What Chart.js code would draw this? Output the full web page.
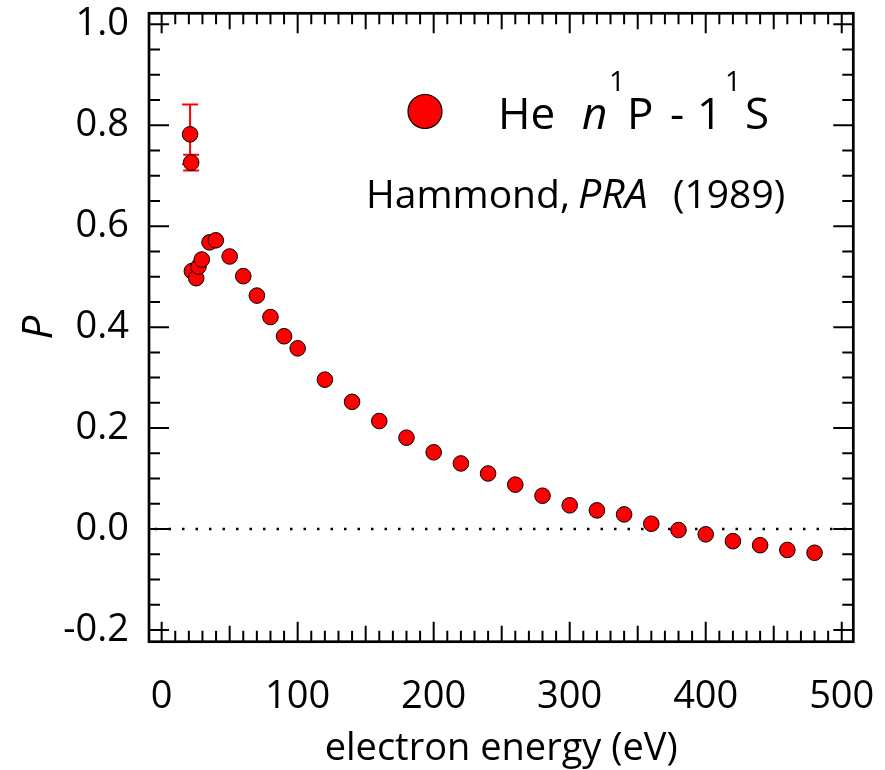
<!DOCTYPE html>
<html>
<head>
<meta charset="utf-8">
<script src="https://cdn.jsdelivr.net/npm/chart.js@4.4.0/dist/chart.umd.min.js"></script>
<style>
  html, body { margin: 0; padding: 0; background: #fff; }
</style>
</head>
<body>
<canvas id="chart" width="885" height="770"></canvas>
<script>
// He n1P - 11S polarization, Hammond PRA (1989)
const energy = [20.9, 21.7, 22.2, 25.4, 27.1, 29.5, 35.2, 39.8, 50, 60, 70, 80, 90, 100,
  120, 140, 160, 180, 200, 220, 240, 260, 280, 300, 320, 340, 360, 380, 400, 420, 440, 460, 480];
const polarization = [0.782, 0.726, 0.511, 0.497, 0.520, 0.534, 0.568, 0.572, 0.540, 0.501, 0.4625, 0.420, 0.382, 0.358,
  0.296, 0.252, 0.214, 0.181, 0.152, 0.130, 0.110, 0.088, 0.066, 0.047, 0.037, 0.029, 0.0105, -0.002, -0.0105, -0.024, -0.032, -0.0415, -0.047];
// only the first two points carry error bars
const errorBars = [0.059, 0.0155];

const xTicks = [0, 100, 200, 300, 400, 500];
const yTicks = [-0.2, 0, 0.2, 0.4, 0.6, 0.8, 1.0];

const FONT = "'Open Sans', sans-serif";
const RED = "#ff0000";

Chart.defaults.font.family = FONT;
Chart.defaults.color = "#000";

const points = energy.map((e, i) => ({ x: e, y: polarization[i] }));

function noOverflow(s) {
  s.paddingLeft = 0; s.paddingRight = 0; s.paddingTop = 0; s.paddingBottom = 0;
}

const framePlugin = {
  id: "framePlugin",
  beforeDatasetsDraw(chart) {
    const { ctx, chartArea: a, scales: { x, y } } = chart;
    ctx.save();
    // zero line
    ctx.strokeStyle = "#000";
    ctx.lineWidth = 2.5;
    ctx.setLineDash([2.5, 11]);
    const y0 = y.getPixelForValue(0);
    ctx.beginPath();
    ctx.moveTo(a.left + 6, y0);
    ctx.lineTo(a.right, y0);
    ctx.stroke();
    ctx.setLineDash([]);
    // error bars
    ctx.strokeStyle = RED;
    ctx.lineWidth = 2;
    errorBars.forEach((err, i) => {
      const px = x.getPixelForValue(energy[i]);
      const top = y.getPixelForValue(polarization[i] + err);
      const bot = y.getPixelForValue(polarization[i] - err);
      ctx.beginPath();
      ctx.moveTo(px, top); ctx.lineTo(px, bot);
      ctx.moveTo(px - 8, top); ctx.lineTo(px + 8, top);
      ctx.moveTo(px - 8, bot); ctx.lineTo(px + 8, bot);
      ctx.stroke();
    });
    ctx.restore();
  },
  afterDraw(chart) {
    const { ctx, chartArea: a, scales: { x, y } } = chart;
    ctx.save();
    ctx.strokeStyle = "#000";
    // inward ticks on all four sides
    ctx.lineWidth = 2;
    ctx.beginPath();
    for (let v = 0; v <= 500; v += 10) {
      const px = x.getPixelForValue(v);
      const len = v % 100 === 0 ? 20 : v % 50 === 0 ? 16 : 11;
      ctx.moveTo(px, a.bottom); ctx.lineTo(px, a.bottom - len);
      ctx.moveTo(px, a.top); ctx.lineTo(px, a.top + len);
    }
    for (let k = -4; k <= 20; k++) {
      const py = y.getPixelForValue(k * 0.05);
      const len = k % 4 === 0 ? 20 : 11;
      ctx.moveTo(a.left, py); ctx.lineTo(a.left + len, py);
      ctx.moveTo(a.right, py); ctx.lineTo(a.right - len, py);
    }
    ctx.stroke();
    // frame
    ctx.lineWidth = 2.7;
    ctx.strokeRect(a.left, a.top, a.right - a.left, a.bottom - a.top);

    // legend marker
    ctx.beginPath();
    ctx.arc(425, 111.5, 17, 0, Math.PI * 2);
    ctx.fillStyle = RED;
    ctx.fill();
    ctx.lineWidth = 1.2;
    ctx.stroke();

    // legend text
    ctx.fillStyle = "#000";
    ctx.textBaseline = "alphabetic";
    ctx.textAlign = "left";
    ctx.font = "44px " + FONT;
    ctx.fillText("He", 498, 128.5);
    ctx.font = "italic 44px " + FONT;
    ctx.fillText("n", 582, 128.5);
    ctx.font = "44px " + FONT;
    ctx.fillText("P", 627, 128.5);
    ctx.fillText("-", 670, 128.5);
    ctx.fillText("1", 697, 128.5);
    ctx.fillText("S", 745, 128.5);
    ctx.font = "28px " + FONT;
    ctx.fillText("1", 609, 91);
    ctx.fillText("1", 725, 91);

    ctx.font = "39px " + FONT;
    ctx.fillText("Hammond,", 366, 208);
    ctx.font = "italic 41px " + FONT;
    ctx.fillText("PRA", 578, 208);
    ctx.font = "39px " + FONT;
    ctx.fillText("(1989)", 673, 208);
    ctx.restore();
  }
};

new Chart(document.getElementById("chart"), {
  type: "scatter",
  data: {
    datasets: [{
      label: "He n1P - 11S",
      data: points,
      backgroundColor: RED,
      borderColor: "#000",
      borderWidth: 1,
      pointRadius: 7.8,
      pointHoverRadius: 7.8
    }]
  },
  options: {
    responsive: false,
    animation: false,
    devicePixelRatio: 1,
    layout: { padding: { top: 13.3, right: 31.7, left: 0, bottom: 0 } },
    plugins: { legend: { display: false }, tooltip: { enabled: false } },
    scales: {
      x: {
        type: "linear",
        min: -9.3,
        max: 508.5,
        afterFit(s) { s.height = 128.3; noOverflow(s); },
        afterBuildTicks(s) { s.ticks = xTicks.map(v => ({ value: v })); },
        grid: { display: false },
        border: { display: false },
        ticks: {
          font: { size: 38, lineHeight: 1 },
          padding: 28,
          maxRotation: 0,
          autoSkip: false,
          callback: v => String(v)
        },
        title: {
          display: true,
          text: "electron energy (eV)",
          font: { size: 38, lineHeight: 1 },
          padding: { top: 0, bottom: 2 }
        }
      },
      y: {
        type: "linear",
        min: -0.2232,
        max: 1.0218,
        afterFit(s) { s.width = 149; noOverflow(s); },
        afterBuildTicks(s) { s.ticks = yTicks.map(v => ({ value: v })); },
        grid: { display: false },
        border: { display: false },
        ticks: {
          font: { size: 38, lineHeight: 1 },
          padding: 12,
          autoSkip: false,
          callback: v => v.toFixed(1)
        },
        title: {
          display: true,
          text: "P",
          font: { size: 42, style: "italic", lineHeight: 1 },
          padding: { top: 19, bottom: 0 }
        }
      }
    }
  },
  plugins: [framePlugin]
});
</script>
</body>
</html>
